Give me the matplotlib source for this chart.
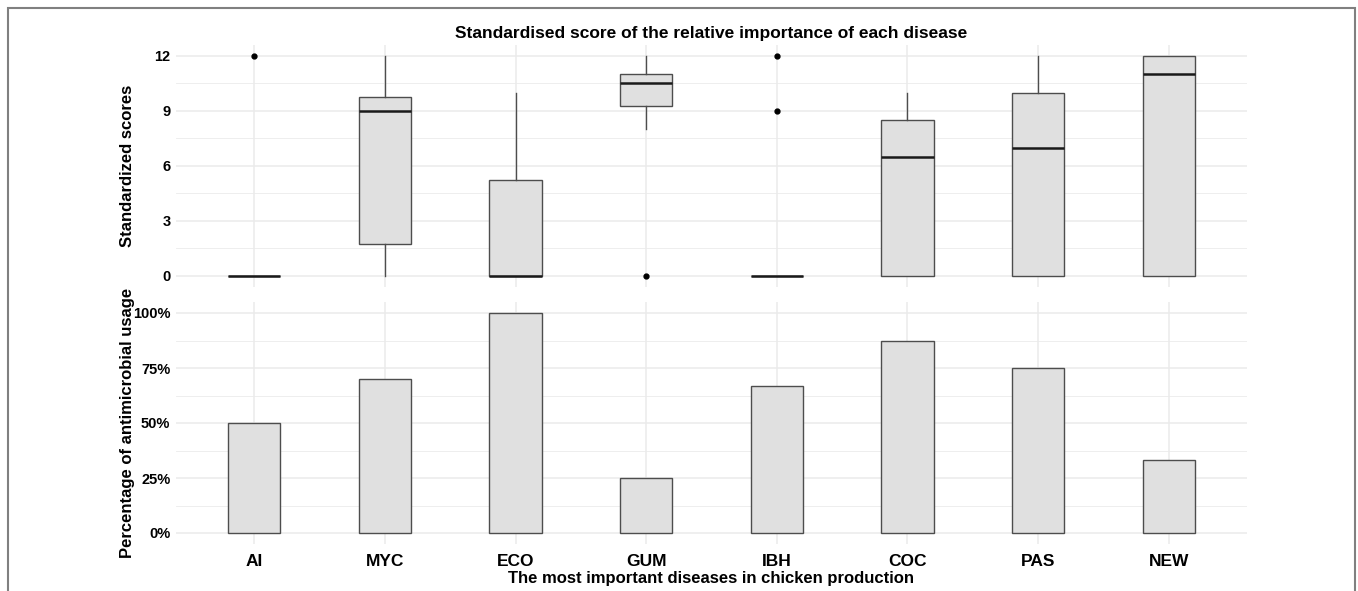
import matplotlib
matplotlib.use("Agg")
import matplotlib.pyplot as plt
from matplotlib.patches import Rectangle
from matplotlib.ticker import FixedLocator

plt.rcParams['font.family'] = ['Liberation Sans', 'DejaVu Sans']

categories = ["AI", "MYC", "ECO", "GUM", "IBH", "COC", "PAS", "NEW"]
# boxplot statistics of standardized scores
q1 = [0, 1.75, 0, 9.25, 0, 0, 0, 0]
median = [0, 9, 0, 10.5, 0, 6.5, 7, 11]
q3 = [0, 9.75, 5.25, 11, 0, 8.5, 10, 12]
whisker_low = [0, 0, 0, 8, 0, 0, 0, 0]
whisker_high = [0, 12, 10, 12, 0, 10, 12, 12]
outliers = [[12], [], [], [0], [12, 9], [], [], []]
# percentage of antimicrobial usage
usage = [0.50, 0.70, 1.00, 0.25, 0.667, 0.875, 0.75, 0.333]

score_ticks = [0, 3, 6, 9, 12]
pct_ticks = [0, 0.25, 0.5, 0.75, 1.0]
pct_labels = ["0%", "25%", "50%", "75%", "100%"]

W, H = 1358, 591
fig = plt.figure(figsize=(W / 100, H / 100), dpi=100)

def frac(x0, y0, x1, y1):
    return [x0 / W, 1 - y1 / H, (x1 - x0) / W, (y1 - y0) / H]

ax1 = fig.add_axes(frac(176, 45, 1247, 287))
ax2 = fig.add_axes(frac(176, 302, 1247, 544))

fill = "#e0e0e0"
edge = "#4d4d4d"
grid_c = "#ebebeb"
pos = list(range(1, len(categories) + 1))

def style(ax):
    for s in ax.spines.values():
        s.set_visible(False)
    ax.set_xlim(0.4, len(categories) + 0.6)
    ax.grid(True, which='major', color=grid_c, linewidth=1.1, zorder=0)
    ax.grid(True, which='minor', axis='y', color=grid_c, linewidth=0.6, zorder=0)
    ax.tick_params(axis='both', which='both', length=0, pad=4)
    ax.set_axisbelow(True)

stats = []
for i in range(len(categories)):
    stats.append(dict(q1=q1[i], med=median[i], q3=q3[i],
                      whislo=whisker_low[i], whishi=whisker_high[i],
                      fliers=outliers[i], label=categories[i]))
ax1.bxp(stats, positions=pos, widths=0.4, patch_artist=True, showcaps=False,
        boxprops=dict(facecolor=fill, edgecolor=edge, linewidth=1.0),
        medianprops=dict(color="#1a1a1a", linewidth=1.8),
        whiskerprops=dict(color=edge, linewidth=1.0),
        flierprops=dict(marker='o', markersize=3.5, markerfacecolor='black',
                        markeredgecolor='black'))
style(ax1)
ax1.set_ylim(-0.6, 12.6)
ax1.yaxis.set_major_locator(FixedLocator(score_ticks))
ax1.yaxis.set_minor_locator(FixedLocator([1.5, 4.5, 7.5, 10.5]))
ax1.set_xticks(pos)
ax1.set_xticklabels([])
ax1.set_yticks(score_ticks)
ax1.set_yticklabels([str(t) for t in score_ticks], fontsize=10.5, fontweight='bold')
ax1.set_ylabel("Standardized scores", fontsize=12, fontweight='bold')
ax1.set_title("Standardised score of the relative importance of each disease",
              fontsize=12.5, fontweight='bold', pad=5)

ax2.bar(pos, usage, width=0.4, color=fill, edgecolor=edge, linewidth=1.0, zorder=2)
style(ax2)
ax2.set_ylim(-0.05, 1.05)
ax2.yaxis.set_major_locator(FixedLocator(pct_ticks))
ax2.yaxis.set_minor_locator(FixedLocator([0.125, 0.375, 0.625, 0.875]))
ax2.set_yticks(pct_ticks)
ax2.set_yticklabels(pct_labels, fontsize=10.5, fontweight='bold')
ax2.set_xticks(pos)
ax2.set_xticklabels(categories, fontsize=12.5, fontweight='bold')
ax2.tick_params(axis='x', pad=7)
ax2.set_ylabel("Percentage of antimicrobial usage", fontsize=12, fontweight='bold')
ax2.set_xlabel("The most important diseases in chicken production", fontsize=12,
               fontweight='bold', labelpad=2)

ax1.yaxis.set_label_coords(-0.038, 0.5)
ax2.yaxis.set_label_coords(-0.038, 0.5)

fig.add_artist(Rectangle((7.5 / W, -0.05), (1355 - 7.5) / W, 1.05 - 7.5 / H,
                         transform=fig.transFigure, fill=False,
                         edgecolor="#808080", linewidth=1.5))

fig.savefig("out.png", dpi=100)
